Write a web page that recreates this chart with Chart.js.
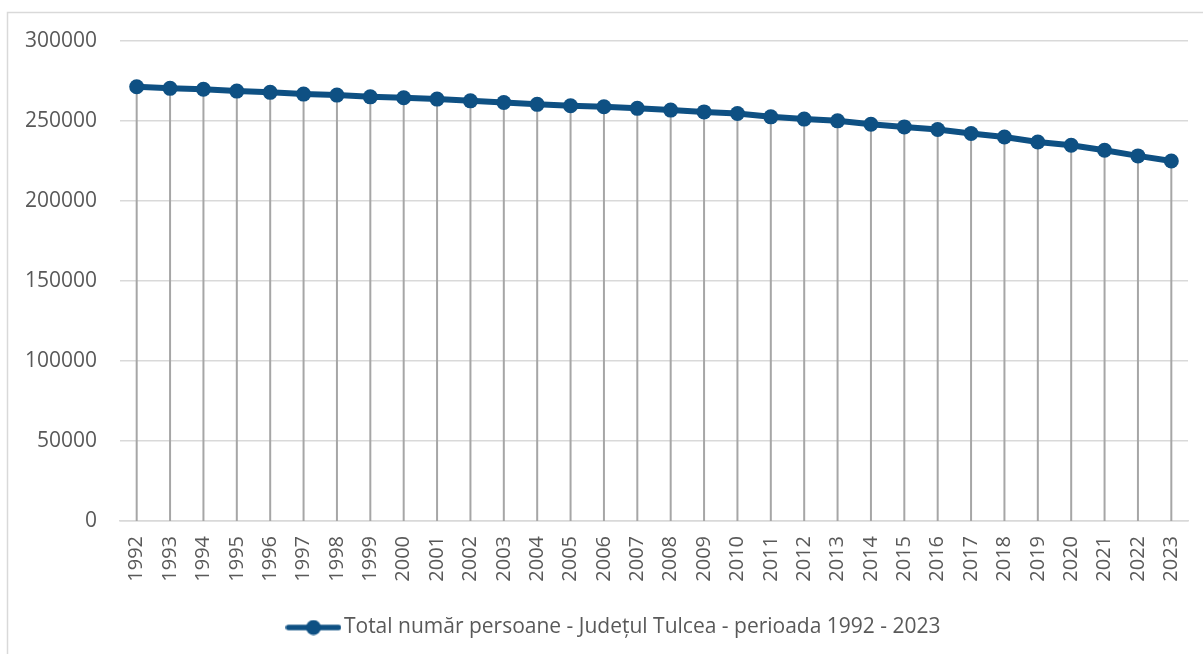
<!DOCTYPE html>
<html>
<head>
<meta charset="utf-8">
<script src="https://cdn.jsdelivr.net/npm/chart.js@4.4.1/dist/chart.umd.min.js"></script>
<style>
  html, body { margin: 0; padding: 0; background: #fff; }
  #wrap { width: 1203px; height: 654px; position: relative; }
</style>
</head>
<body>
<div id="wrap"><canvas id="grafic"></canvas></div>
<script>
// ============================ DATE ============================ //

const ani = ["1992", "1993", "1994", "1995", "1996", "1997", "1998", "1999", "2000", "2001",
  "2002", "2003", "2004", "2005", "2006", "2007", "2008", "2009", "2010", "2011",
  "2012", "2013", "2014", "2015", "2016", "2017", "2018", "2019", "2020", "2021",
  "2022", "2023"];

const persoane = [271400, 270400, 269800, 268700, 267900, 266800, 266200, 265100, 264500, 263700,
  262600, 261600, 260400, 259500, 258900, 257900, 256800, 255700, 254700, 252600,
  251200, 250100, 248000, 246300, 244700, 242200, 240000, 236900, 234800, 231700,
  228200, 225000];

const ticksY = [0, 50000, 100000, 150000, 200000, 250000, 300000];

const eticheta = "Total număr persoane - Județul Tulcea - perioada 1992 - 2023";

// ============================ STIL ============================ //

const albastru = "#0e5083";
const gri = "#595959";
const font = "'Open Sans', 'Noto Sans', sans-serif";

// simbol legenda: linie + cerc
const simbol = document.createElement("canvas");
simbol.width = 56;
simbol.height = 16;
(function () {
  const c = simbol.getContext("2d");
  c.strokeStyle = albastru;
  c.lineWidth = 5.5;
  c.lineCap = "round";
  c.beginPath();
  c.moveTo(3, 8);
  c.lineTo(53, 8);
  c.stroke();
  c.fillStyle = albastru;
  c.beginPath();
  c.arc(28, 8, 7.5, 0, Math.PI * 2);
  c.fill();
})();

// linii verticale de la punct la axa
const liniiVerticale = {
  id: "liniiVerticale",
  beforeDatasetsDraw(chart) {
    const ctx = chart.ctx;
    const zero = chart.scales.y.getPixelForValue(0);
    ctx.save();
    ctx.strokeStyle = "#a6a6a6";
    ctx.lineWidth = 2;
    chart.getDatasetMeta(0).data.forEach((p) => {
      ctx.beginPath();
      ctx.moveTo(p.x, p.y);
      ctx.lineTo(p.x, zero);
      ctx.stroke();
    });
    ctx.restore();
  },
};

// chenar + legenda putin mai la dreapta
const chenar = {
  id: "chenar",
  afterLayout(chart) {
    chart.legend.left += 23;
    chart.legend.right += 23;
  },
  beforeDraw(chart) {
    const ctx = chart.ctx;
    ctx.save();
    ctx.strokeStyle = "#d9d9d9";
    ctx.lineWidth = 1.5;
    ctx.strokeRect(7.5, 12.5, 1400, 800);
    ctx.restore();
  },
};

const data = {
  labels: ani,
  datasets: [
    {
      label: eticheta,
      data: persoane,
      borderColor: albastru,
      backgroundColor: albastru,
      borderWidth: 6,
      pointRadius: 7.5,
      pointHoverRadius: 7.5,
      pointBorderWidth: 0,
      pointBackgroundColor: albastru,
      tension: 0,
    },
  ],
};

const config = {
  type: "line",
  data: data,
  options: {
    responsive: true,
    maintainAspectRatio: false,
    animation: false,
    layout: { padding: { top: 41, right: 15, bottom: 6, left: 0 } },
    scales: {
      x: {
        offset: true,
        grid: { display: false, drawTicks: false },
        border: { display: true, color: "#d9d9d9", width: 1.5 },
        ticks: {
          minRotation: 90,
          maxRotation: 90,
          autoSkip: false,
          padding: 15,
          color: gri,
          font: { family: font, size: 20 },
        },
        afterFit(scale) {
          scale.height = 86;
          scale.paddingLeft = 0;
          scale.paddingRight = 0;
        },
      },
      y: {
        min: 0,
        max: 300000,
        afterBuildTicks(scale) { scale.ticks = ticksY.map((v) => ({ value: v })); },
        grid: { color: "#d9d9d9", lineWidth: 1.5, drawTicks: false },
        border: { display: false },
        ticks: {
          padding: 23,
          color: gri,
          font: { family: font, size: 21 },
          callback: (v) => String(v),
        },
        afterFit(scale) { scale.width = 120; },
      },
    },
    plugins: {
      tooltip: { enabled: false },
      legend: {
        position: "bottom",
        labels: {
          usePointStyle: true,
          pointStyle: simbol,
          pointStyleWidth: 40,
          color: gri,
          padding: 10,
          font: { family: font, size: 21 },
        },
      },
    },
  },
  plugins: [chenar, liniiVerticale],
};

const grafic = new Chart(document.getElementById("grafic"), config);
</script>
</body>
</html>
